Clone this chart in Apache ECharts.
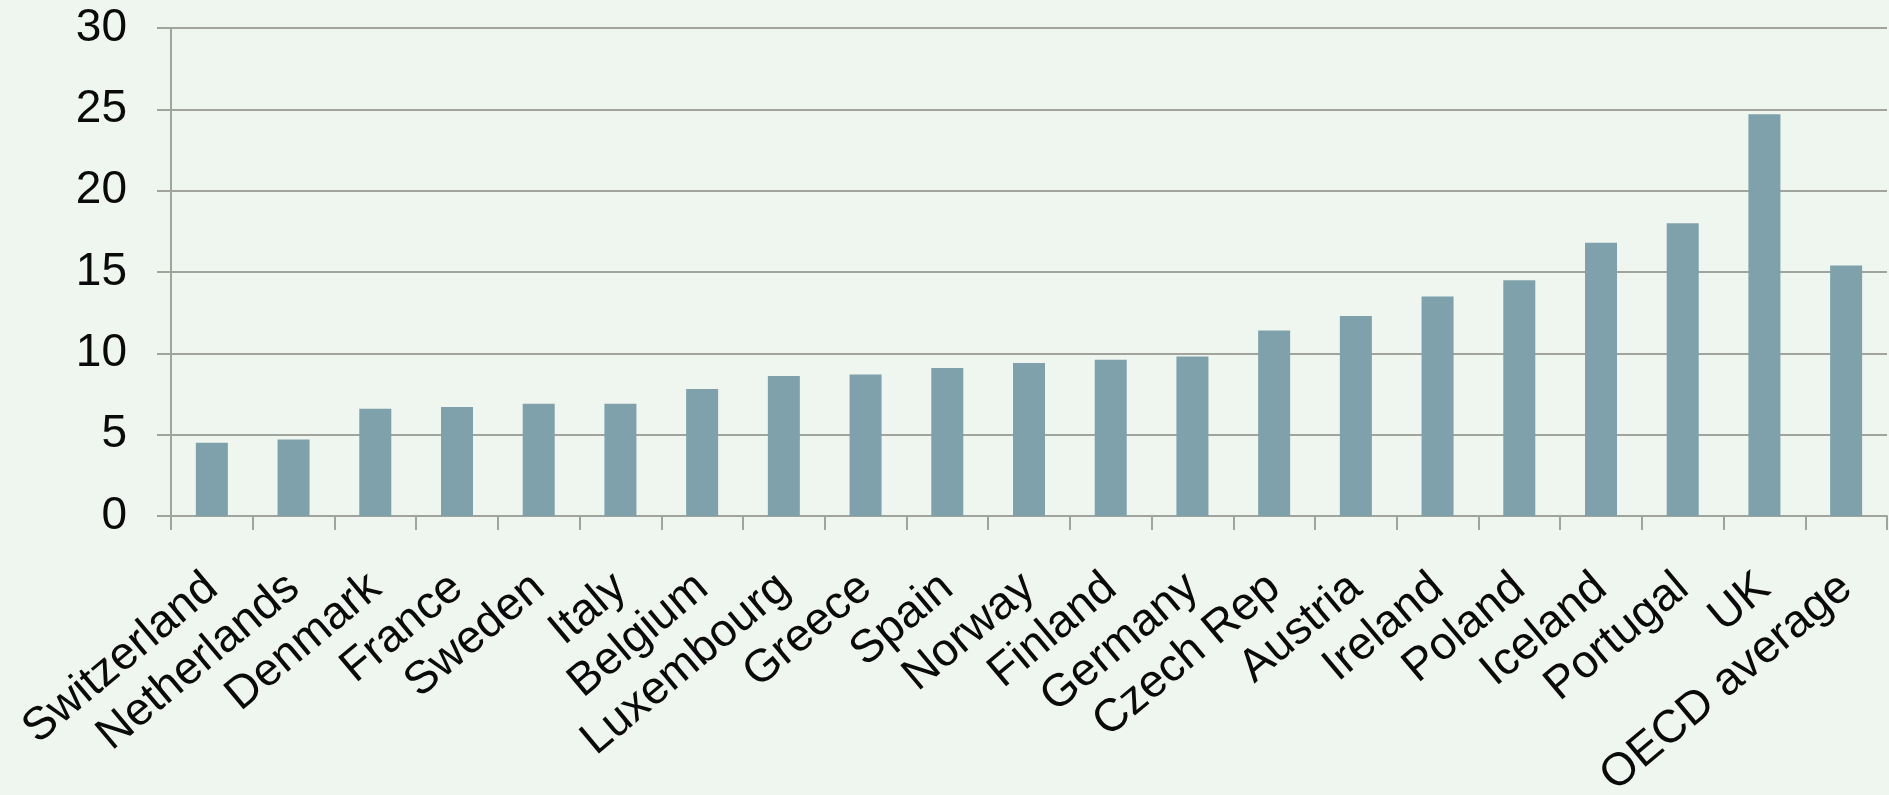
<!DOCTYPE html>
<html>
<head>
<meta charset="utf-8">
<script src="https://cdn.jsdelivr.net/npm/echarts@6/dist/echarts.min.js"></script>
<style>
html,body{margin:0;padding:0;background:#eff5ef;}
#chart{width:1889px;height:795px;}
</style>
</head>
<body>
<div id="chart"></div>
<script>
const categories = ["Switzerland","Netherlands","Denmark","France","Sweden","Italy","Belgium","Luxembourg","Greece","Spain","Norway","Finland","Germany","Czech Rep","Austria","Ireland","Poland","Iceland","Portugal","UK","OECD average"];
const values = [4.5,4.7,6.6,6.7,6.9,6.9,7.8,8.6,8.7,9.1,9.4,9.6,9.8,11.4,12.3,13.5,14.5,16.8,18.0,24.7,15.4];
const yTicks = [0,5,10,15,20,25,30];

const chart = echarts.init(document.getElementById('chart'), null, {renderer:'canvas'});
const lineColor = '#a0a49d';
chart.setOption({
  backgroundColor: '#eff5ef',
  animation: false,
  grid: {left:171, right:2, top:28, bottom:279, containLabel:false, outerBoundsMode:'none'},
  xAxis: {
    type:'category',
    data: categories,
    boundaryGap: true,
    axisLine: {show:true, lineStyle:{color:lineColor, width:2}},
    axisTick: {show:true, length:14, lineStyle:{color:lineColor, width:2}},
    axisLabel: {
      rotate: 40, margin: 66, interval: 0,
      fontFamily: 'Liberation Sans, Arial, sans-serif',
      fontSize: 46, color: '#0a0a0a'
    }
  },
  yAxis: {
    type:'value',
    min: yTicks[0], max: yTicks[yTicks.length-1], interval: 5,
    axisLine: {show:true, lineStyle:{color:lineColor, width:2}},
    axisTick: {show:true, length:14, lineStyle:{color:lineColor, width:2}},
    splitLine: {show:true, lineStyle:{color:lineColor, width:2}},
    axisLabel: {
      margin: 44,
      fontFamily: 'Liberation Sans, Arial, sans-serif',
      fontSize: 46, color: '#0a0a0a'
    }
  },
  series: [{
    type:'bar',
    data: values,
    barWidth: 32,
    itemStyle: {color:'#7fa1ac'}
  }]
});
</script>
</body>
</html>
